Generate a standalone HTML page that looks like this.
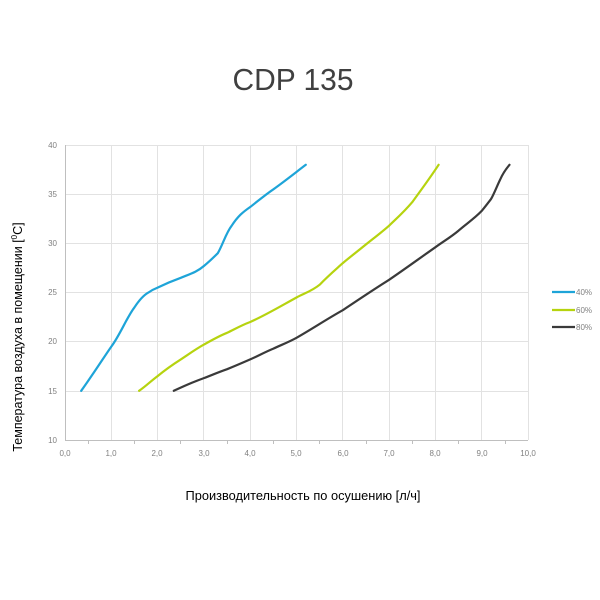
<!DOCTYPE html>
<html><head><meta charset="utf-8"><style>
html,body{margin:0;padding:0;background:#fff;}
svg{display:block;font-family:"Liberation Sans",sans-serif;}
</style></head><body>
<svg width="600" height="600" viewBox="0 0 600 600" xmlns="http://www.w3.org/2000/svg">
<text x="293" y="90" text-anchor="middle" font-size="31" fill="#404040" textLength="121" lengthAdjust="spacingAndGlyphs">CDP 135</text>
<g stroke="#e2e2e2" stroke-width="1">
<line x1="65" y1="145.5" x2="528" y2="145.5"/>
<line x1="65" y1="194.5" x2="528" y2="194.5"/>
<line x1="65" y1="243.5" x2="528" y2="243.5"/>
<line x1="65" y1="292.5" x2="528" y2="292.5"/>
<line x1="65" y1="341.5" x2="528" y2="341.5"/>
<line x1="65" y1="391.5" x2="528" y2="391.5"/>
<line x1="111.5" y1="145" x2="111.5" y2="440"/>
<line x1="157.5" y1="145" x2="157.5" y2="440"/>
<line x1="203.5" y1="145" x2="203.5" y2="440"/>
<line x1="250.5" y1="145" x2="250.5" y2="440"/>
<line x1="296.5" y1="145" x2="296.5" y2="440"/>
<line x1="342.5" y1="145" x2="342.5" y2="440"/>
<line x1="389.5" y1="145" x2="389.5" y2="440"/>
<line x1="435.5" y1="145" x2="435.5" y2="440"/>
<line x1="481.5" y1="145" x2="481.5" y2="440"/>
<line x1="528.5" y1="145" x2="528.5" y2="440"/>
</g>
<g stroke="#bfbfbf" stroke-width="1">
<line x1="65.5" y1="145" x2="65.5" y2="440"/>
<line x1="65" y1="440.5" x2="528" y2="440.5"/>
<line x1="88.5" y1="440" x2="88.5" y2="444"/><line x1="134.5" y1="440" x2="134.5" y2="444"/><line x1="180.5" y1="440" x2="180.5" y2="444"/><line x1="227.5" y1="440" x2="227.5" y2="444"/><line x1="273.5" y1="440" x2="273.5" y2="444"/><line x1="319.5" y1="440" x2="319.5" y2="444"/><line x1="366.5" y1="440" x2="366.5" y2="444"/><line x1="412.5" y1="440" x2="412.5" y2="444"/><line x1="458.5" y1="440" x2="458.5" y2="444"/><line x1="505.5" y1="440" x2="505.5" y2="444"/>
</g>
<g font-size="8" fill="#808080" text-anchor="end">
<text x="57" y="148">40</text><text x="57" y="197">35</text><text x="57" y="246">30</text><text x="57" y="295">25</text><text x="57" y="344">20</text><text x="57" y="394">15</text><text x="57" y="443">10</text>
</g>
<g font-size="8" fill="#808080" text-anchor="middle">
<text x="65" y="456">0,0</text><text x="111" y="456">1,0</text><text x="157" y="456">2,0</text><text x="204" y="456">3,0</text><text x="250" y="456">4,0</text><text x="296" y="456">5,0</text><text x="343" y="456">6,0</text><text x="389" y="456">7,0</text><text x="435" y="456">8,0</text><text x="482" y="456">9,0</text><text x="528" y="456">10,0</text>
</g>
<g fill="none" stroke-width="2.2" stroke-linejoin="round" stroke-linecap="round">
<path stroke="#1ea4d8" d="M81.2,390.8 C96,370 104,357 111.3,346.6 C120,335 127,317 134.5,307.3 C140,299 144,295 148.3,292.6 C152,290 154,289 157.6,287.6 C165,284 172,281 180.8,277.8 C190,274 197,272 203.9,266 C210,261 213,258 217.8,253.2 C223,244 226,233 231.7,225.7 C238,216 243,212 250.2,207 C258,201 265,195 273.4,189.3 C285,181 295,173 305.8,164.8"/>
<path stroke="#b6d30f" d="M139.1,390.8 C146,386 151,381 157.6,376.1 C165,370 172,365 180.8,359.4 C189,354 196,349 203.9,344.6 C212,340 219,336 227.1,332.8 C235,329 242,325 250.2,322 C266,315 281,306 296.5,297.5 C305,293 312,291 319.7,284.7 C328,276 334,271 342.8,263.1 C350,257 358,251 366,244.4 C374,238 382,232 389.1,225.7 C397,218 404,212 412.3,202.1 C421,190 430,178 438.6,164.8"/>
<path stroke="#3a3a3a" d="M173.8,390.8 C184,386 193,382 203.9,378.1 C212,375 219,372 227.1,369.2 C235,366 242,363 250.2,359.4 C258,356 265,352 273.4,348.6 C281,345 289,342 296.5,337.8 C312,329 327,319 342.8,310.2 C358,300 373,290 389.1,279.8 C405,269 420,258 435.3,247.3 C444,241 451,237 458.6,230.6 C466,224 474,219 481.7,210.9 C485,207 488,203 491,199.1 C494,194 497,186 500.2,179.5 C503,173 506,169 509.5,164.8"/>
</g>
<g stroke-width="2.2">
<line x1="552" y1="292" x2="575" y2="292" stroke="#1ea4d8"/>
<line x1="552" y1="310" x2="575" y2="310" stroke="#b6d30f"/>
<line x1="552" y1="327" x2="575" y2="327" stroke="#3a3a3a"/>
</g>
<g font-size="8" fill="#808080">
<text x="576" y="295">40%</text><text x="576" y="313">60%</text><text x="576" y="330">80%</text>
</g>
<text x="303" y="500" text-anchor="middle" font-size="12.5" fill="#000" textLength="235" lengthAdjust="spacingAndGlyphs">Производительность по осушению [л/ч]</text>
<text transform="translate(22,337) rotate(-90)" text-anchor="middle" font-size="12.5" fill="#000">Температура воздуха в помещении [<tspan font-size="8" dy="-5">0</tspan><tspan dy="5">C]</tspan></text>
</svg>
</body></html>
